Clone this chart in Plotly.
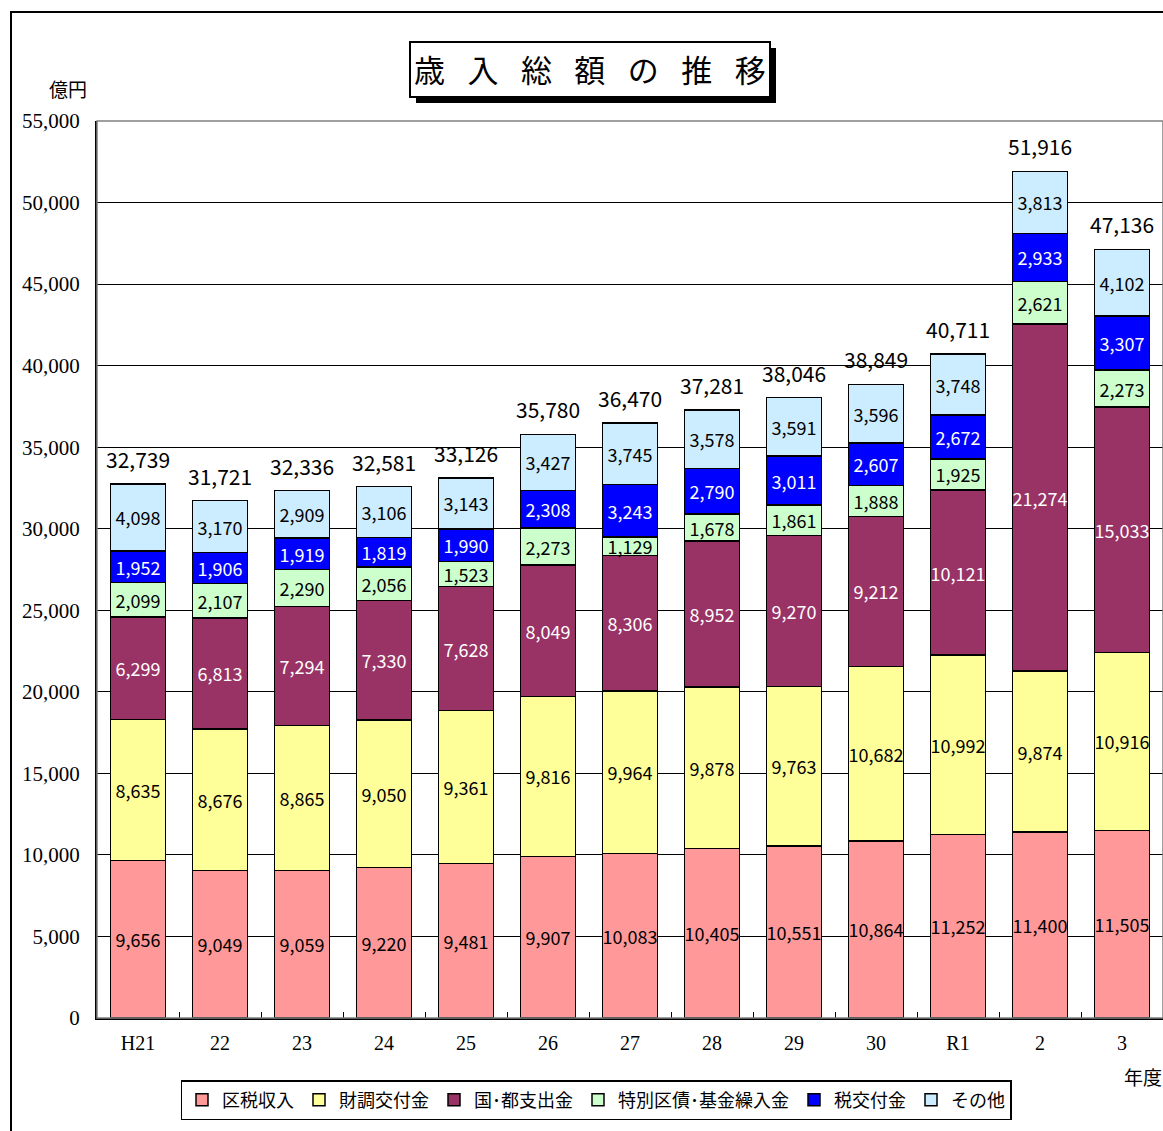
import plotly.graph_objects as go

# 年度
years = ["H21", "22", "23", "24", "25", "26", "27", "28", "29", "30", "R1", "2", "3"]

# 歳入内訳（億円）
kuzei = [9656, 9049, 9059, 9220, 9481, 9907, 10083, 10405, 10551, 10864, 11252, 11400, 11505]
zaicho = [8635, 8676, 8865, 9050, 9361, 9816, 9964, 9878, 9763, 10682, 10992, 9874, 10916]
kokuto = [6299, 6813, 7294, 7330, 7628, 8049, 8306, 8952, 9270, 9212, 10121, 21274, 15033]
kusai = [2099, 2107, 2290, 2056, 1523, 2273, 1129, 1678, 1861, 1888, 1925, 2621, 2273]
zeikofu = [1952, 1906, 1919, 1819, 1990, 2308, 3243, 2790, 3011, 2607, 2672, 2933, 3307]
sonota = [4098, 3170, 2909, 3106, 3143, 3427, 3745, 3578, 3591, 3596, 3748, 3813, 4102]

# 歳入総額
totals = [32739, 31721, 32336, 32581, 33126, 35780, 36470, 37281, 38046, 38849, 40711, 51916, 47136]

series = [
    ("区税収入", kuzei, "#FF9999", "black"),
    ("財調交付金", zaicho, "#FFFF99", "black"),
    ("国･都支出金", kokuto, "#993366", "white"),
    ("特別区債･基金繰入金", kusai, "#CCFFCC", "black"),
    ("税交付金", zeikofu, "#0000FF", "white"),
    ("その他", sonota, "#CCECFF", "black"),
]

W, H = 1163, 1131
L, R, T, B = 97, 0, 121, 113
PW, PH = W - L - R, H - T - B

def px(x):
    return (x - L) / PW

def py(y):
    return (H - B - y) / PH

GOTHIC = "Noto Sans CJK JP"
SERIF = "Liberation Serif"

fig = go.Figure()
for name, vals, color, tcolor in series:
    fig.add_trace(go.Bar(
        x=years, y=vals, name=name,
        marker=dict(color=color, line=dict(color="black", width=1.5)),
        text=[f"{v:,}" for v in vals],
        textposition="inside", insidetextanchor="middle",
        textangle=0, constraintext="none",
        textfont=dict(family=GOTHIC, size=18, color=tcolor),
        hoverinfo="skip",
    ))

shapes = [
    # 外枠
    dict(type="rect", xref="paper", yref="paper",
         x0=px(11), x1=px(1175), y0=py(12), y1=py(1140),
         line=dict(color="black", width=2), layer="below"),
    # プロット領域の枠
    dict(type="rect", xref="paper", yref="paper",
         x0=0, x1=1, y0=0, y1=1,
         line=dict(color="#808080", width=1.5), layer="above"),
    # タイトルの影
    dict(type="rect", xref="paper", yref="paper",
         x0=px(416), x1=px(776), y0=py(48), y1=py(103),
         fillcolor="black", line=dict(width=0)),
    # タイトル枠
    dict(type="rect", xref="paper", yref="paper",
         x0=px(410), x1=px(770), y0=py(42), y1=py(97),
         fillcolor="white", line=dict(color="black", width=2)),
]

sp = "\u2002\u00a0"
annotations = [
    dict(text=sp.join("歳入総額の推移"), xref="paper", yref="paper",
         x=px(590), y=py(69), xanchor="center", yanchor="middle", showarrow=False,
         font=dict(family=GOTHIC, size=31, color="black")),
    dict(text="億円", xref="paper", yref="paper", x=px(68), y=py(88),
         xanchor="center", yanchor="middle",
         showarrow=False, font=dict(family=GOTHIC, size=19, color="black")),
    dict(text="年度", xref="paper", yref="paper", x=px(1143), y=py(1076),
         xanchor="center", yanchor="middle",
         showarrow=False, font=dict(family=GOTHIC, size=19, color="black")),
]

# 各年度の総額ラベル（カテゴリ位置はインデックスで指定）
for i, tot in enumerate(totals):
    annotations.append(dict(
        x=i, y=tot, xref="x", yref="y", text=f"{tot:,}",
        xanchor="center", yanchor="middle", yshift=25, showarrow=False,
        font=dict(family=GOTHIC, size=21, color="black"),
    ))

fig.update_layout(
    width=W, height=H,
    margin=dict(l=L, r=R, t=T, b=B, pad=0),
    paper_bgcolor="white", plot_bgcolor="white",
    barmode="stack", bargap=0.33,
    showlegend=True,
    legend=dict(orientation="h", xanchor="center", yanchor="top",
                x=px(596), y=py(1080),
                bordercolor="black", borderwidth=1.5,
                font=dict(family=GOTHIC, size=18, color="black"),
                itemwidth=30, traceorder="normal"),
    shapes=shapes,
    annotations=annotations,
    xaxis=dict(type="category", range=[-0.5, len(years) - 0.5],
               showline=True, linecolor="black", linewidth=2,
               ticks="inside", tickson="boundaries", ticklen=6,
               tickcolor="black", tickwidth=1,
               tickfont=dict(family=SERIF, size=20, color="black"),
               ticklabelstandoff=6, fixedrange=True),
    yaxis=dict(range=[0, 55000], dtick=5000, tickformat=",",
               showline=True, linecolor="black", linewidth=2,
               showgrid=True, gridcolor="black", gridwidth=1,
               ticks="", ticklabelstandoff=11,
               tickfont=dict(family=SERIF, size=21, color="black"),
               zeroline=False, fixedrange=True),
)

fig.write_html("out.html")
